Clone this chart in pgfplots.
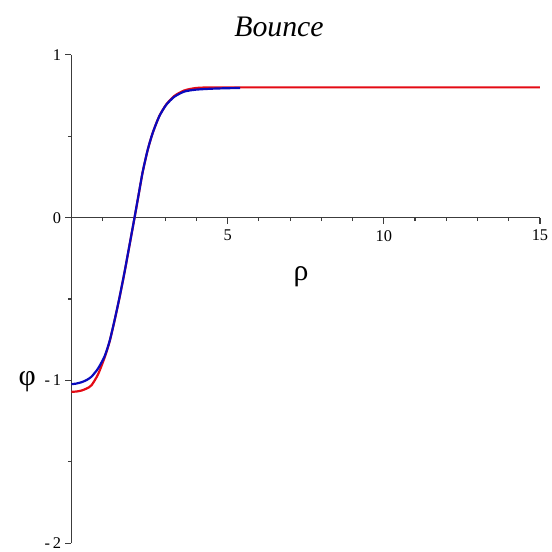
\documentclass[border=0pt]{standalone}
\usepackage{fontspec}
\setmainfont{Liberation Serif}
\usepackage{pgfplots}
\pgfplotsset{compat=1.18}
\definecolor{bred}{RGB}{228,10,20}
\definecolor{bblue}{RGB}{10,10,190}
\definecolor{axgray}{RGB}{60,60,60}
\begin{document}
\begin{tikzpicture}
\begin{axis}[
  at={(0,0)}, anchor=south west,
  scale only axis, width=470bp, height=490bp,
  xmin=0, xmax=15, ymin=-2, ymax=1,
  axis x line=middle, axis y line=left,
  axis line style={-, axgray, line width=1.5bp},
  tick align=outside,
  tick style={axgray, line width=1.2bp},
  major tick length=6bp, minor tick length=3.5bp,
  xtick={5,10,15}, xticklabels={5,10,15},
  minor xtick={1,2,3,4,6,7,8,9,11,12,13,14},
  ytick={-2,-1,0,1}, yticklabels={{-\,2},{-\,1},0,1},
  minor ytick={-1.5,-0.5,0.5},
  ticklabel style={font=\fontsize{16.5}{18}\selectfont, text=black},
  xticklabel style={yshift=-3bp},
  yticklabel style={xshift=-1bp},
  clip=false,
]
% red profile, full range
\addplot[bred, line width=2.2bp, smooth, tension=0.4] table {
x y
0    -1.070
0.16 -1.068
0.32 -1.062
0.48 -1.050
0.64 -1.030
0.85 -0.963
1.06 -0.860
1.22 -0.762
1.38 -0.632
1.54 -0.490
1.70 -0.335
1.86 -0.168
2.02 0.000
2.15 0.140
2.28 0.280
2.44 0.415
2.60 0.520
2.81 0.623
3.03 0.694
3.29 0.747
3.61 0.781
3.98 0.796
4.50 0.800
6.00 0.800
15.0 0.800
};
% blue profile, truncated domain
\addplot[bblue, line width=2.2bp, smooth, tension=0.4] table {
x y
0    -1.023
0.16 -1.019
0.32 -1.011
0.48 -0.998
0.64 -0.977
0.85 -0.927
1.06 -0.852
1.22 -0.759
1.38 -0.630
1.54 -0.488
1.70 -0.333
1.86 -0.166
2.02 0.002
2.15 0.142
2.28 0.281
2.44 0.416
2.60 0.520
2.81 0.622
3.03 0.692
3.29 0.742
3.61 0.774
3.98 0.786
4.50 0.792
5.00 0.795
5.40 0.796
};
\node[font=\fontsize{30}{36}\selectfont\itshape] at (rel axis cs:0.443,1) [yshift=28bp] {Bounce};
\node[font=\fontsize{30}{36}\selectfont, anchor=base] at (axis cs:7.35,-0.388) {ρ};
\node[font=\fontsize{30}{36}\selectfont] at (axis cs:-1.42,-1.006) {φ};
\end{axis}
\path (-71.7bp,-7bp) rectangle (480.3bp,545bp);
\end{tikzpicture}
\end{document}
